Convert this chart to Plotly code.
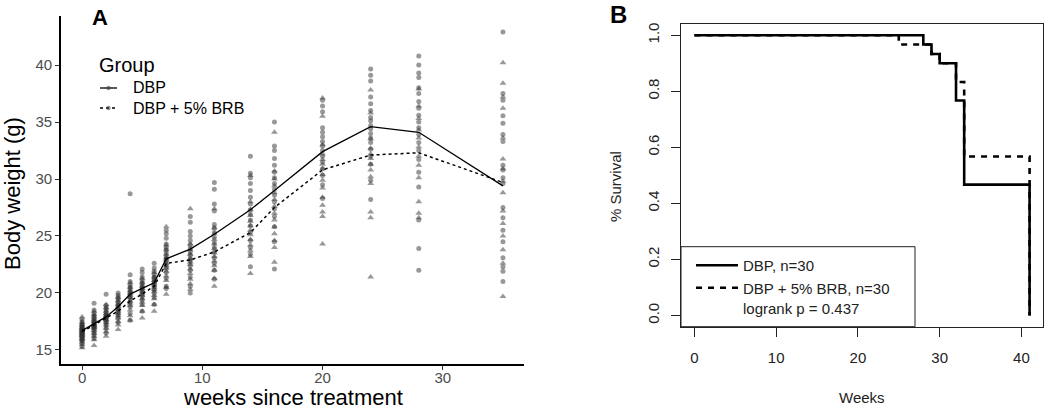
import plotly.graph_objects as go

# ---------------- Panel A data ----------------
weeks = [0, 1, 2, 3, 4, 5, 6, 7, 9, 11, 14, 16, 20, 24, 28, 35]

mean_dbp = [16.7, 17.3, 17.9, 18.8, 19.9, 20.4, 20.9, 23.0, 23.85, 25.15, 27.3, 29.0, 32.4, 34.6, 34.1, 29.4]
mean_brb = [16.6, 17.2, 17.8, 18.4, 19.3, 19.9, 20.6, 22.6, 22.9, 23.6, 25.3, 27.5, 30.8, 32.1, 32.3, 29.7]

ind_dbp = {
    0: [15.3, 15.6, 15.8, 15.9, 16.0, 16.1, 16.2, 16.3, 16.4, 16.5, 16.5, 16.6, 16.7, 16.8, 16.9, 17.0, 17.1, 17.2, 17.3, 17.5, 17.7],
    1: [16.0, 16.3, 16.5, 16.7, 16.9, 17.0, 17.1, 17.2, 17.3, 17.4, 17.5, 17.6, 17.8, 18.0, 18.2, 18.5, 19.1],
    2: [16.5, 16.9, 17.2, 17.4, 17.6, 17.8, 17.9, 18.0, 18.1, 18.3, 18.5, 18.7, 18.9, 19.9],
    3: [17.4, 17.8, 18.1, 18.3, 18.5, 18.7, 18.9, 19.0, 19.2, 19.4, 19.6, 19.8, 20.0],
    4: [17.6, 18.2, 18.8, 19.2, 19.5, 19.7, 19.9, 20.1, 20.3, 20.5, 20.7, 21.0, 21.6, 28.7],
    5: [18.4, 19.0, 19.4, 19.7, 19.9, 20.1, 20.3, 20.5, 20.7, 20.9, 21.1, 21.4, 21.8, 22.1],
    6: [19.0, 19.6, 20.0, 20.3, 20.6, 20.8, 21.0, 21.2, 21.4, 21.6, 21.9, 22.2, 22.6],
    7: [20.4, 20.6, 21.3, 21.8, 22.2, 22.5, 22.8, 23.0, 23.2, 23.5, 23.8, 24.0, 24.3, 24.8, 25.2, 25.5],
    9: [20.0, 20.6, 21.4, 22.0, 22.4, 22.8, 23.0, 23.3, 23.6, 23.9, 24.2, 24.6, 25.0, 25.4, 26.2, 26.7],
    11: [21.2, 22.0, 22.6, 23.1, 23.6, 24.0, 24.4, 24.9, 25.3, 25.7, 26.0, 27.2, 27.8, 29.1, 29.7],
    14: [22.3, 23.4, 24.0, 24.6, 25.3, 25.9, 26.4, 26.9, 27.3, 27.8, 28.4, 29.0, 29.6, 30.1, 30.5, 32.0],
    16: [22.1, 24.5, 25.8, 26.7, 27.4, 28.0, 28.6, 29.1, 29.6, 30.1, 30.6, 31.2, 31.8, 32.5, 32.9, 35.0],
    20: [28.3, 29.5, 30.3, 30.9, 31.5, 32.0, 32.5, 32.9, 33.3, 33.7, 34.1, 34.5, 35.9, 36.4, 36.9],
    24: [28.2, 29.9, 31.3, 32.0, 32.6, 33.2, 33.6, 34.0, 34.4, 34.7, 35.1, 35.4, 36.0, 36.6, 37.2, 38.6, 39.1, 39.65],
    28: [22.0, 23.9, 26.4, 29.3, 30.6, 31.7, 32.5, 33.2, 33.9, 34.5, 35.0, 35.6, 36.2, 36.8, 37.5, 38.0, 38.9, 39.3, 40.0, 40.8],
    35: [42.9, 37.5, 36.9, 35.55, 34.9, 33.9, 33.3, 31.2, 30.8, 30.1, 29.6, 27.5, 26.6, 25.5, 24.5, 23.1, 22.3, 21.9, 21.0],
}
ind_brb = {
    0: [15.2, 15.5, 15.7, 15.9, 16.0, 16.2, 16.3, 16.4, 16.5, 16.6, 16.7, 16.8, 16.9, 17.0, 17.2, 17.4, 17.9],
    1: [15.4, 15.9, 16.2, 16.5, 16.7, 16.9, 17.0, 17.1, 17.2, 17.3, 17.5, 17.7, 17.9, 18.1, 18.4],
    2: [16.2, 16.6, 16.9, 17.2, 17.4, 17.6, 17.7, 17.9, 18.0, 18.2, 18.4, 18.7, 19.0],
    3: [16.8, 17.2, 17.5, 17.8, 18.0, 18.2, 18.4, 18.6, 18.8, 19.0, 19.3, 19.6],
    4: [17.6, 18.0, 18.5, 18.9, 19.1, 19.3, 19.6, 19.8, 20.0, 20.2, 20.5, 20.9],
    5: [17.8, 18.4, 18.9, 19.2, 19.5, 19.8, 20.0, 20.2, 20.4, 20.6, 20.9, 21.3],
    6: [18.4, 19.0, 19.5, 19.8, 20.1, 20.3, 20.5, 20.7, 20.9, 21.1, 21.4, 21.8],
    7: [19.9, 20.5, 21.1, 21.5, 21.9, 22.2, 22.4, 22.6, 22.9, 23.1, 23.4, 23.8, 24.2, 25.8],
    9: [20.3, 20.8, 21.2, 21.7, 22.1, 22.5, 22.7, 23.0, 23.4, 23.8, 24.3, 27.4],
    11: [20.6, 21.3, 22.0, 22.4, 22.8, 23.2, 23.5, 23.9, 24.3, 24.7, 25.2, 25.7, 27.4],
    14: [21.7, 23.2, 23.7, 24.2, 24.7, 25.1, 25.5, 25.9, 26.3, 26.8, 27.3, 28.0, 30.3],
    16: [22.7, 24.0, 24.6, 25.2, 25.8, 26.4, 27.0, 27.6, 28.2, 28.8, 29.4, 30.0, 30.7, 34.1],
    20: [24.3, 26.7, 27.1, 27.7, 28.4, 29.2, 29.9, 30.4, 30.9, 31.3, 31.7, 32.2, 33.0, 35.5, 37.1],
    24: [21.4, 26.6, 27.1, 29.6, 30.2, 30.8, 31.3, 31.8, 32.2, 32.7, 33.5, 35.8, 37.8],
    28: [26.6, 27.0, 28.0, 30.1, 31.2, 32.0, 32.8, 33.6, 34.3, 35.3, 36.4, 37.9],
    35: [40.2, 38.4, 37.2, 36.2, 33.6, 31.75, 30.9, 29.8, 28.8, 27.2, 26.1, 25.0, 23.8, 22.6, 19.7],
}

# ---------------- Panel B data ----------------
km_dbp_t = [0, 28, 29, 30, 32, 33, 41]
km_dbp_s = [1.0, 0.967, 0.933, 0.900, 0.767, 0.467, 0.0]
km_brb_t = [0, 25, 29, 30, 32, 33, 41]
km_brb_s = [1.0, 0.967, 0.933, 0.900, 0.833, 0.567, 0.0]

a_xticks = [0, 10, 20, 30]
a_yticks = [15, 20, 25, 30, 35, 40]
b_xticks = [0, 10, 20, 30, 40]
b_yticks = [0.0, 0.2, 0.4, 0.6, 0.8, 1.0]
b_yticktext = ["0.0", "0.2", "0.4", "0.6", "0.8", "1.0"]

W, H = 1050, 411
FONT = "Arial, Liberation Sans, sans-serif"


def px(x):
    return x / W


def py(y):
    return 1 - y / H


fig = go.Figure()


def flatten(d):
    xs, ys = [], []
    for t in weeks:
        for v in d[t]:
            xs.append(t)
            ys.append(v)
    return xs, ys


xd, yd = flatten(ind_dbp)
xb, yb = flatten(ind_brb)

fig.add_trace(go.Scatter(x=xd, y=yd, mode="markers", xaxis="x", yaxis="y", showlegend=False,
                         marker=dict(symbol="circle", size=5, color="rgba(50,50,50,0.5)", line=dict(width=0)),
                         hoverinfo="skip"))
fig.add_trace(go.Scatter(x=xb, y=yb, mode="markers", xaxis="x", yaxis="y", showlegend=False,
                         marker=dict(symbol="triangle-up", size=6, color="rgba(50,50,50,0.5)", line=dict(width=0)),
                         hoverinfo="skip"))
fig.add_trace(go.Scatter(x=weeks, y=mean_dbp, mode="lines", name="DBP", xaxis="x", yaxis="y",
                         line=dict(color="black", width=1.3), showlegend=False))
fig.add_trace(go.Scatter(x=weeks, y=mean_brb, mode="lines", name="DBP + 5% BRB", xaxis="x", yaxis="y",
                         line=dict(color="black", width=1.5, dash="3px,3px"), showlegend=False))

# Panel B curves (dashed first, solid on top)
fig.add_trace(go.Scatter(x=km_brb_t, y=km_brb_s, mode="lines", line_shape="hv", name="DBP + 5% BRB, n=30",
                         xaxis="x2", yaxis="y2", line=dict(color="black", width=2.6, dash="6px,6px"),
                         legend="legend2"))
fig.add_trace(go.Scatter(x=km_dbp_t, y=km_dbp_s, mode="lines", line_shape="hv", name="DBP, n=30",
                         xaxis="x2", yaxis="y2", line=dict(color="black", width=2.6),
                         legend="legend2"))


def ann(text, x, y, size, color="black", angle=0, family=FONT, xanchor="center"):
    return dict(text=text, x=px(x), y=py(y), xref="paper", yref="paper", showarrow=False,
                xanchor=xanchor, yanchor="middle", textangle=angle,
                font=dict(size=size, color=color, family=family))


def key_line(x0, x1, y, dash, width):
    return dict(type="line", xref="paper", yref="paper", x0=px(x0), x1=px(x1), y0=py(y), y1=py(y),
                line=dict(color="black", width=width, dash=dash))


def key_dot(x, y, r):
    return dict(type="circle", xref="paper", yref="paper", x0=px(x - r), x1=px(x + r),
                y0=py(y + r), y1=py(y - r), line=dict(width=0), fillcolor="rgba(60,60,60,0.55)")


fig.update_layout(
    width=W, height=H,
    margin=dict(l=0, r=0, t=0, b=0),
    paper_bgcolor="white", plot_bgcolor="white",
    font=dict(family=FONT, color="black"),
    xaxis=dict(domain=[px(61), px(524)], range=[-1.75, 36.75], tickvals=a_xticks,
               showline=True, linecolor="black", linewidth=1.6, ticks="outside", ticklen=4,
               tickcolor="#333", tickwidth=1.2, tickfont=dict(size=15, color="#4d4d4d"),
               ticklabelstandoff=-5,
               showgrid=False, zeroline=False, anchor="y"),
    yaxis=dict(domain=[py(364), py(16)], range=[13.77, 44.3], tickvals=a_yticks,
               showline=True, linecolor="black", linewidth=1.6, ticks="outside", ticklen=4,
               tickcolor="#333", tickwidth=1.2, tickfont=dict(size=15, color="#4d4d4d"),
               showgrid=False, zeroline=False, anchor="x"),
    xaxis2=dict(domain=[px(681), px(1043)], range=[-1.64, 42.64], tickvals=b_xticks,
                showline=True, mirror=True, linecolor="#222", linewidth=1, ticks="outside", ticklen=9,
                tickcolor="#222", tickfont=dict(size=15, color="#222"), ticklabelstandoff=8,
                showgrid=False, zeroline=False, anchor="y2"),
    yaxis2=dict(domain=[py(326.7), py(24)], range=[-0.04, 1.04], tickvals=b_yticks, ticktext=b_yticktext,
                tickangle=-90, showline=True, mirror=True, linecolor="#222", linewidth=1,
                ticks="outside", ticklen=9, tickcolor="#222", tickfont=dict(size=15, color="#222"),
                ticklabelstandoff=6, showgrid=False, zeroline=False, anchor="x2"),
    legend2=dict(x=px(691), y=py(249), xanchor="left", yanchor="top", bgcolor="rgba(0,0,0,0)",
                 font=dict(size=15, color="#222"), traceorder="reversed", itemwidth=42),
    shapes=[
        dict(type="rect", xref="paper", yref="paper", x0=px(681), x1=px(915), y0=py(326.7), y1=py(246.7),
             line=dict(color="#222", width=1), fillcolor="white", layer="above"),
        key_line(100, 117, 88, "solid", 1.3),
        key_line(100, 117, 108, "3px,3px", 1.5),
        key_dot(108.5, 88, 2.2),
        key_dot(108.5, 108, 2.2),
    ],
    annotations=[
        ann("<b>A</b>", 100, 18, 22),
        ann("<b>B</b>", 618, 15, 24),
        ann("Body weight (g)", 12, 194, 22, angle=-90,
            family="Liberation Sans Narrow, Arial Narrow, sans-serif"),
        ann("weeks since treatment", 293, 397, 22),
        ann("Group", 97, 65, 20, xanchor="left"),
        ann("DBP", 131, 88, 16, xanchor="left"),
        ann("DBP + 5% BRB", 131, 108, 16, xanchor="left"),
        ann("Weeks", 862, 397, 15, color="#222"),
        ann("% Survival", 615, 187, 15, color="#222", angle=-90),
        ann("logrank p = 0.437", 741, 308, 15, color="#222", xanchor="left"),
    ],
)

fig.write_html("out.html", post_script="document.body.style.margin='0';",
               config={"displayModeBar": False})
